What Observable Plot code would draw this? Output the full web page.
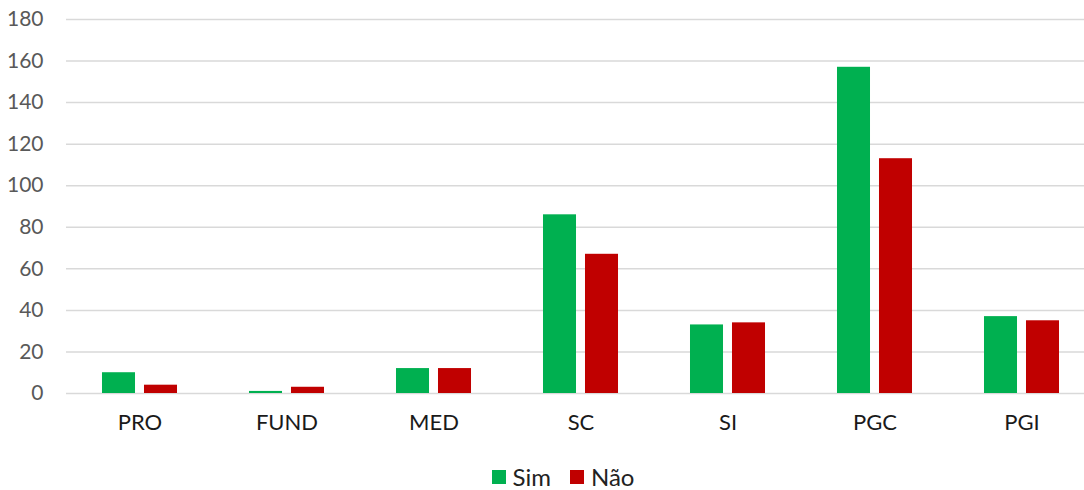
<!DOCTYPE html>
<html>
<head>
<meta charset="utf-8">
<script src="https://cdn.jsdelivr.net/npm/d3@7"></script>
<script src="https://cdn.jsdelivr.net/npm/@observablehq/plot@0.6"></script>
<style>
  html, body { margin: 0; padding: 0; background: #fff; }
  body { position: relative; width: 1084px; height: 490px; overflow: hidden; font-family: Lato, "Open Sans", sans-serif; }
  #chart svg { overflow: hidden; display: block; }
  #legend { position: absolute; left: 42px; right: 0; top: 465px; height: 24px; line-height: 24px; display: flex; justify-content: center; align-items: center; gap: 19px; font-size: 24px; color: #222; }
  .item { display: flex; align-items: center; gap: 7px; line-height: 24px; }
  .sw { width: 14px; height: 14px; display: inline-block; }
</style>
</head>
<body>
<div id="chart"></div>
<div id="legend"></div>
<script>
const categories = ["PRO", "FUND", "MED", "SC", "SI", "PGC", "PGI"];
const series = ["Sim", "Não"];
const simValues = [10, 1, 12, 86, 33, 157, 37];
const naoValues = [4, 3, 12, 67, 34, 113, 35];
const yTicks = [0, 20, 40, 60, 80, 100, 120, 140, 160, 180];
const colors = ["#00b050", "#c00000"];

const data = [];
categories.forEach((c, i) => {
  data.push({cat: c, series: "Sim", value: simValues[i]});
  data.push({cat: c, series: "Não", value: naoValues[i]});
});

const chart = Plot.plot({
  width: 1084,
  height: 458,
  marginLeft: 66,
  marginRight: 0,
  marginTop: 19,
  marginBottom: 65,
  style: {fontFamily: "Lato, 'Open Sans', sans-serif", fontSize: "21px", background: "#fff"},
  fx: {domain: categories, range: [66, 1095], round: false, padding: 0, label: null, tickSize: 0, tickPadding: 21, axis: "bottom"},
  x: {domain: series, round: false, paddingInner: 0.214, paddingOuter: 0.857, axis: null},
  y: {domain: [0, 180], ticks: yTicks, label: null, tickSize: 0, tickPadding: 23},
  color: {domain: series, range: colors},
  marks: [
    Plot.ruleY(yTicks, {stroke: "#d9d9d9", strokeWidth: 1.5}),
    Plot.barY(data, {fx: "cat", x: "series", y: "value", fill: "series"})
  ]
});
chart.querySelectorAll("g[aria-label='y-axis'] text, g[aria-label='y-axis tick label'] text").forEach(t => t.setAttribute("fill", "#595959"));
chart.querySelectorAll("g[aria-label='fx-axis'] text, g[aria-label='fx-axis tick label'] text").forEach(t => { t.setAttribute("fill", "#1a1a1a"); t.style.fontSize = "22px"; });
document.getElementById("chart").appendChild(chart);

const legend = document.getElementById("legend");
series.forEach((s, i) => {
  const item = document.createElement("span");
  item.className = "item";
  const sw = document.createElement("span");
  sw.className = "sw";
  sw.style.background = colors[i];
  const label = document.createElement("span");
  label.textContent = s;
  item.appendChild(sw);
  item.appendChild(label);
  legend.appendChild(item);
});
</script>
</body>
</html>
